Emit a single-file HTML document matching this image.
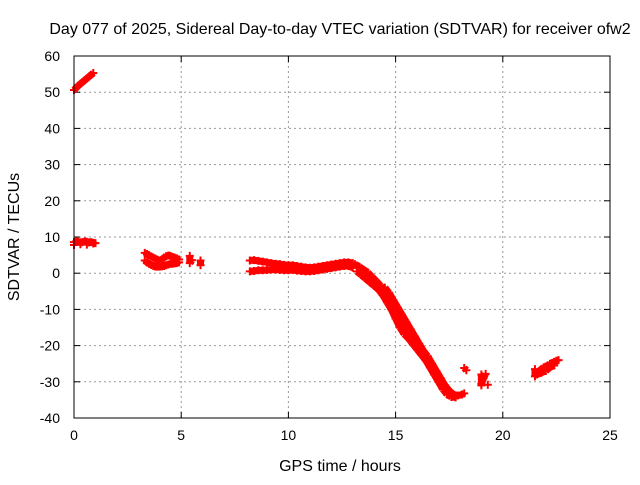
<!DOCTYPE html>
<html><head><meta charset="utf-8"><style>
body{margin:0;background:#fff;}
svg text{font-family:"Liberation Sans",sans-serif;font-size:14px;fill:#000;}
svg text.big{font-size:16px;}
</style></head><body>
<svg id="chart" width="640" height="480" xmlns="http://www.w3.org/2000/svg">
<text class="big" x="340" y="34" text-anchor="middle">Day 077 of 2025, Sidereal Day-to-day VTEC variation (SDTVAR) for receiver ofw2</text>
<g id="grid"></g>
<g id="ticks"></g>
<g id="marks" stroke="#ff0000" stroke-width="2"></g>
<rect x="74" y="56" width="536" height="362" fill="none" stroke="#000" stroke-width="1"/>
<text class="big" x="340" y="471" text-anchor="middle">GPS time / hours</text>
<text class="big" transform="translate(19,237) rotate(-90)" text-anchor="middle">SDTVAR / TECUs</text>
</svg>
<script>
const xTicks=[0,5,10,15,20,25];
const yTicks=[60,50,40,30,20,10,0,-10,-20,-30,-40];
const hours=[0,0.1,0.2,0.3,0.4,0.5,0.6,0.7,0.8,0.9,
0,0.1,0.2,0.3,0.4,0.5,0.6,0.7,0.8,0.9,1.0,0,0.3,0.6,0.9,
3.3,3.4,3.5,3.6,3.7,3.8,3.9,4.0,4.1,4.2,4.3,4.4,4.5,4.6,4.7,4.8,4.9,
3.3,3.4,3.5,3.6,3.7,3.8,3.9,4.0,4.1,4.2,4.3,4.4,4.5,4.6,4.7,4.8,4.9,
5.4,5.4,5.5,5.9,5.9,
8.2,8.4,8.6,8.8,9.0,9.2,9.4,9.6,9.8,10.0,10.2,10.4,10.6,10.8,11.0,11.2,11.4,11.6,11.8,12.0,12.2,12.4,12.6,12.8,13.0,
8.2,8.4,8.6,8.8,9.0,9.2,9.4,9.6,9.8,10.0,10.2,10.4,10.6,10.8,11.0,11.2,11.4,11.6,11.8,12.0,12.2,12.4,12.6,12.8,13.0,
13.1,13.3,13.5,13.7,13.9,14.1,14.3,14.5,14.7,14.9,15.1,15.3,15.5,15.7,15.9,16.1,16.3,16.5,16.7,16.9,17.1,17.3,17.5,17.7,17.9,18.1,18.2,
13.2,13.4,13.6,13.8,14.0,14.2,14.4,14.6,14.8,15.0,15.2,15.4,15.6,15.8,16.0,16.2,16.4,16.6,16.8,17.0,17.2,17.4,17.6,17.8,
14.5,14.7,14.9,15.1,15.3,15.5,15.7,15.9,16.1,16.3,
14.6,14.8,15.0,15.2,15.4,15.6,15.8,16.0,16.2,
18.2,18.3,19.0,19.0,19.1,19.2,19.3,19.0,
21.5,21.5,21.6,21.7,21.8,21.9,22.0,22.1,22.2,22.3,22.4,22.5,22.6,21.6,21.8,22.0,22.2,22.4];
const values=[50.6,51.2,51.8,52.3,52.8,53.3,53.8,54.3,54.8,55.3,
8.6,8.8,8.7,8.5,8.6,8.8,8.7,8.5,8.6,8.4,8.3,7.8,8.0,7.9,8.2,
5.6,5.3,5.0,4.6,4.3,4.0,3.7,3.4,3.8,4.3,4.7,4.9,4.8,4.5,4.3,4.1,3.8,
3.5,3.0,2.6,2.3,2.0,1.8,1.8,1.8,1.9,2.0,2.2,2.4,2.6,2.6,2.7,2.8,3.0,
4.8,2.8,3.6,3.5,2.2,
3.5,3.6,3.4,3.2,3.0,2.8,2.6,2.5,2.3,2.2,2.2,2.0,1.8,1.6,1.5,1.6,1.8,2.0,2.2,2.4,2.6,2.8,3.0,3.0,2.8,
0.5,0.6,0.8,0.8,0.9,1.0,1.0,0.9,0.8,0.8,0.9,0.7,0.6,0.5,0.5,0.6,0.8,1.0,1.2,1.4,1.6,1.8,2.0,2.0,1.5,
2.5,1.8,1.0,0.2,-1.0,-2.2,-3.5,-5.0,-7.0,-9.5,-12.0,-14.0,-15.8,-17.2,-18.6,-20.0,-21.5,-23.0,-25.0,-27.0,-29.0,-31.0,-32.5,-33.5,-33.8,-33.5,-33.2,
0.5,-0.5,-1.5,-2.5,-3.5,-4.5,-6.0,-8.0,-10.0,-12.5,-15.0,-16.8,-18.0,-19.5,-21.0,-22.5,-24.0,-26.0,-28.0,-30.0,-32.0,-33.5,-34.2,-34.3,
-4.0,-5.5,-7.5,-9.5,-11.5,-13.5,-15.5,-17.5,-19.5,-21.5,
-6.0,-8.0,-10.0,-12.0,-14.0,-16.0,-18.0,-20.0,-22.0,
-26.2,-26.8,-28.0,-30.5,-29.0,-27.8,-30.8,-31.0,
-26.5,-28.5,-27.5,-27.0,-26.5,-26.0,-25.8,-25.5,-25.0,-24.8,-24.5,-24.2,-24.0,-28.0,-27.5,-27.0,-26.0,-25.5];
const X0=74,X1=610,Y0=418,Y1=56;
const xs=h=>X0+(h-0)/(25-0)*(X1-X0);
const ys=v=>Y0-(v+40)/(100)*(Y0-Y1);
const NS="http://www.w3.org/2000/svg";
const grid=document.getElementById('grid'),ticks=document.getElementById('ticks'),svg=document.getElementById('chart');
function mk(tag,attrs,parent){const e=document.createElementNS(NS,tag);for(const k in attrs)e.setAttribute(k,attrs[k]);parent.appendChild(e);return e;}
xTicks.forEach(t=>{const x=xs(t);
 if(t>0&&t<25){const l=mk('line',{x1:x,x2:x,y1:Y1,y2:Y0,stroke:'#999','stroke-dasharray':'2,3'},grid);
 
 }
 mk('line',{x1:x,x2:x,y1:Y0,y2:Y0-6,stroke:'#000'},ticks);mk('line',{x1:x,x2:x,y1:Y1,y2:Y1+6,stroke:'#000'},ticks);
 const tx=mk('text',{x:x,y:Y0+22,'text-anchor':'middle'},svg);tx.textContent=t;
 
 });
yTicks.forEach(t=>{const y=ys(t);
 if(t>-40&&t<60){const l=mk('line',{x1:X0,x2:X1,y1:y,y2:y,stroke:'#999','stroke-dasharray':'2,3'},grid);
 
 }
 mk('line',{x1:X0,x2:X0+6,y1:y,y2:y,stroke:'#000'},ticks);mk('line',{x1:X1,x2:X1-6,y1:y,y2:y,stroke:'#000'},ticks);
 const tx=mk('text',{x:X0-14,y:y+5,'text-anchor':'end'},svg);tx.textContent=t;
 
 });
const marks=document.getElementById('marks');
hours.forEach((h,i)=>{const x=xs(h),y=ys(values[i]);
 const p=mk('path',{d:`M${x-4},${y}H${x+4}M${x},${y-4}V${y+4}`},marks);
 
 
 if(i>0&&Math.abs(hours[i-1]-h)<0.25&&Math.abs(values[i-1]-values[i])<3){
  const s=mk('line',{x1:xs(hours[i-1]),y1:ys(values[i-1]),x2:x,y2:y,'stroke-width':7},marks);
  
  }
});
</script>
</body></html>
